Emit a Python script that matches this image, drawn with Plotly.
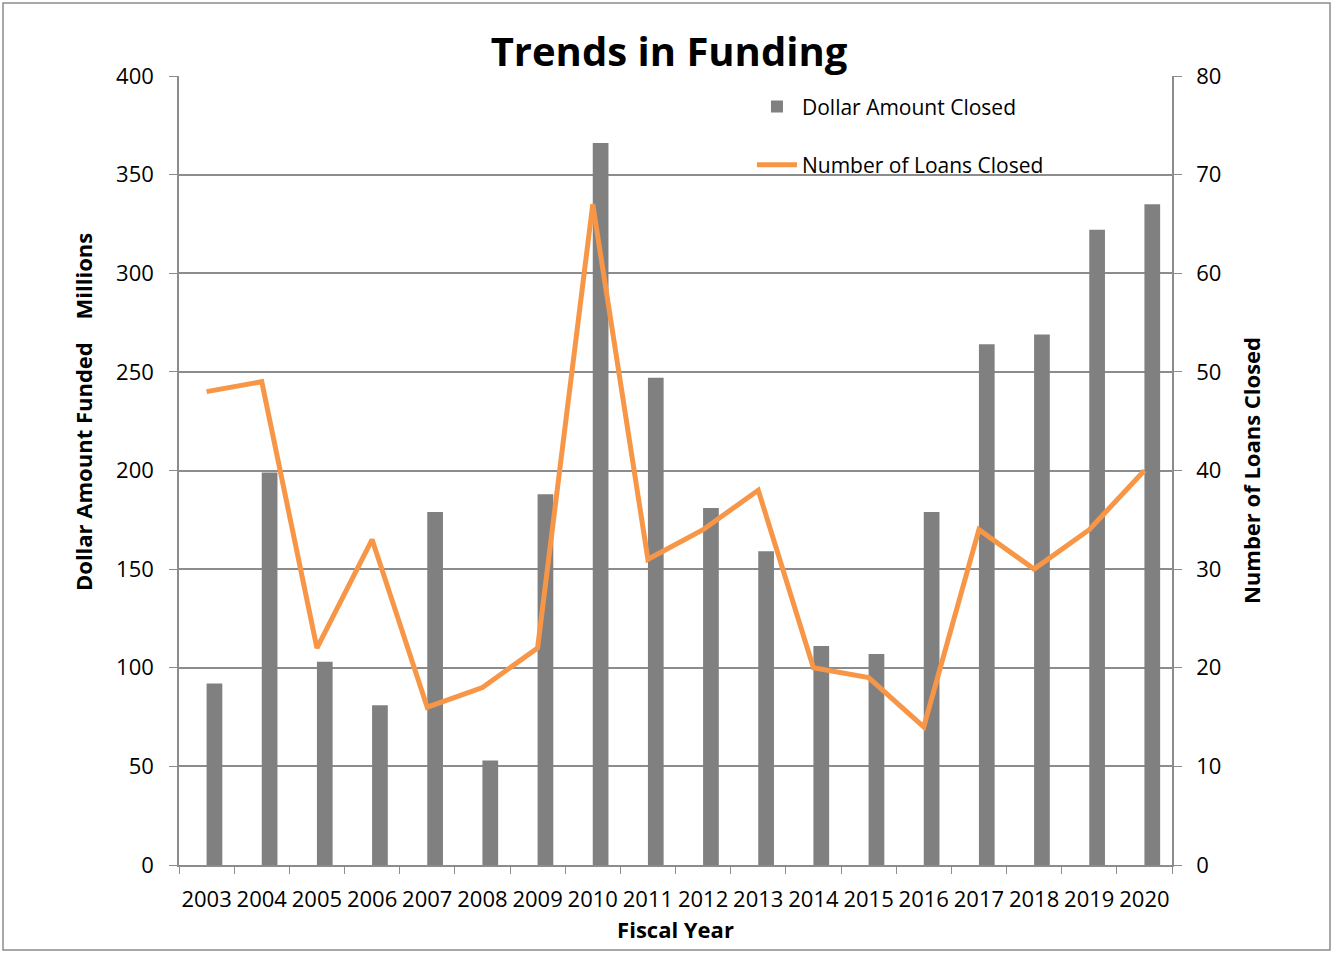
import plotly.graph_objects as go

years = [str(y) for y in range(2003, 2021)]
dollar_amount = [92, 199, 103, 81, 179, 53, 188, 366, 247, 181, 159, 111, 107, 179, 264, 269, 322, 335]
loans_closed = [48, 49, 22, 33, 16, 18, 22, 67, 31, 34, 38, 20, 19, 14, 34, 30, 34, 40]
left_ticks = list(range(0, 401, 50))
right_ticks = list(range(0, 81, 10))

FONT = "Open Sans"
GRID = "#8c8c8c"

PL, PR, PT, PB = 179, 1172, 76, 865
PW, PH = PR - PL, PB - PT

fig = go.Figure()
fig.add_trace(go.Bar(
    x=years, y=dollar_amount, name="Dollar Amount Closed",
    marker=dict(color="#808080", line=dict(width=0)),
    width=0.285, offset=0.0, legendgroup="a",
))
fig.add_trace(go.Scatter(
    x=years, y=loans_closed, name="Number of Loans Closed", yaxis="y2",
    mode="lines", line=dict(color="#F79646", width=5), legendgroup="b",
))

fig.update_layout(
    width=1333, height=953,
    margin=dict(l=PL, r=1333 - PR, t=PT, b=953 - PB),
    paper_bgcolor="white", plot_bgcolor="white",
    font=dict(family=FONT, size=22, color="black"),
    title=dict(text="<b>Trends in Funding</b>", font=dict(family=FONT, size=40, color="black"),
               x=669 / 1333, xanchor="center", y=1 - 52 / 953, yanchor="middle"),
    showlegend=True,
    legend=dict(x=0.577, y=0.987, xanchor="left", yanchor="top", bgcolor="rgba(0,0,0,0)",
                font=dict(family=FONT, size=21), traceorder="grouped", tracegroupgap=28,
                itemwidth=40),
    xaxis=dict(
        type="category", tickson="boundaries", ticks="outside", ticklen=7,
        tickcolor=GRID, showline=True, linecolor=GRID, linewidth=1.5, tickangle=0,
        tickfont=dict(family=FONT, size=22), showgrid=False, ticklabelstandoff=14,
        title=dict(text="<b>Fiscal Year</b>", font=dict(family=FONT, size=22), standoff=10),
        range=[-0.5, 17.5],
    ),
    yaxis=dict(
        range=[0, 400], tickvals=left_ticks, ticks="outside", ticklen=8, tickcolor=GRID,
        showline=True, linecolor=GRID, linewidth=1.5, showgrid=True, gridcolor=GRID,
        gridwidth=1.5, zeroline=False, tickfont=dict(family=FONT, size=22),
        ticklabelstandoff=11,
    ),
    yaxis2=dict(
        range=[0, 80], tickvals=right_ticks, overlaying="y", side="right",
        ticks="outside", ticklen=8, tickcolor=GRID, showline=True, linecolor=GRID,
        linewidth=1.5, showgrid=False, zeroline=False, tickfont=dict(family=FONT, size=22),
        ticklabelstandoff=10,
        title=dict(text="<b>Number of Loans Closed</b>", font=dict(family=FONT, size=22),
                   standoff=24),
    ),
    annotations=[dict(
        text="<b>Dollar Amount Funded    Millions</b>", textangle=-90,
        xref="paper", yref="paper", x=(83 - PL) / PW, y=(PB - 412) / PH,
        xanchor="center", yanchor="middle", showarrow=False,
        font=dict(family=FONT, size=22, color="black"),
    )],
    shapes=[dict(type="rect", xref="paper", yref="paper",
                 x0=(3 - PL) / PW, x1=(1330 - PL) / PW,
                 y0=(PB - 950) / PH, y1=(PB - 3) / PH,
                 line=dict(color="#8c8c8c", width=1.5), fillcolor="rgba(0,0,0,0)", layer="below")],
)

fig.write_html("out.html", config={"displayModeBar": False},
               post_script="document.body.style.margin='0';document.body.style.overflow='hidden';")
